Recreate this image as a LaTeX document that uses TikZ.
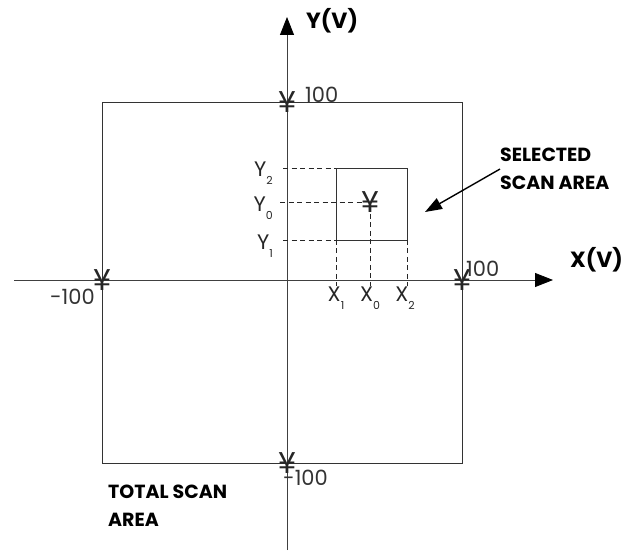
\documentclass[tikz,border=0pt]{standalone}
\usepackage{fontspec}
\setmainfont{Poppins}
\usetikzlibrary{arrows.meta}
\newcommand\lowsub[1]{\raisebox{-0.35em}{\fontsize{11}{11}\selectfont #1}}
\begin{document}
\begin{tikzpicture}[x=1pt,y=-1pt,
  axis/.style={line width=0.8pt, draw=black!75},
  frame/.style={line width=0.8pt, draw=black!80},
  dashline/.style={line width=0.8pt, draw=black!85, dash pattern=on 5pt off 3.5pt},
  ymark/.style={inner sep=0pt, text=black!85, font=\fontsize{30}{30}\selectfont},
  num/.style={inner sep=0pt, text=black!80, font=\fontsize{21}{21}\selectfont},
  coord/.style={inner sep=0pt, text=black!85, font=\fontsize{21}{21}\selectfont},
  axlbl/.style={inner sep=0pt, font=\bfseries\fontsize{22}{22}\selectfont},
  lbl/.style={inner sep=0pt, align=left, font=\bfseries\fontsize{19}{28}\selectfont},
  bigtip/.style={-{Triangle[length=18pt,width=14pt,color=black,fill=black]}}
]
\useasboundingbox (0,0) rectangle (632,553);

% axes
\coordinate (yb) at (287,550);
\coordinate (yt) at (287,17);
\coordinate (xl) at (14,280);
\coordinate (xr) at (553,280);
\draw[axis,bigtip] (yb) -- (yt);
\draw[axis,bigtip] (xl) -- (xr);
\node[axlbl,anchor=base west] (ylab) at (306,29) {Y(V)};
\node[axlbl,anchor=base west] (xlab) at (570,268) {X(V)};

% total scan area
\coordinate (ta) at (102,102);
\coordinate (tb) at (462,463);
\draw[frame] (ta) rectangle (tb);

% markers on the axes
\node[ymark] (mt) at (287,102) {¥};
\node[ymark] (mb) at (287,463) {¥};
\node[ymark] (ml) at (102,280) {¥};
\node[ymark] (mr) at (462,280) {¥};
\node[num,anchor=base west] (nt) at (305,103) {100};
\node[num,anchor=base west] (nr) at (466,277) {100};
\node[num,anchor=base east] (nl) at (95,305) {-100};
\node[num,anchor=base west] (nb) at (283,485) {-100};

% selected scan area
\coordinate (sa) at (336,168);
\coordinate (sb) at (407,240);
\draw[frame] (sa) rectangle (sb);
\node[ymark] (mc) at (370,202) {¥};

\coordinate (y2s) at (283,168);
\coordinate (y0s) at (280,202);
\coordinate (y1s) at (283,240);
\coordinate (y2e) at (336,168);
\coordinate (y0e) at (362,202);
\coordinate (y1e) at (336,240);
\draw[dashline] (y2s) -- (y2e);
\draw[dashline] (y0s) -- (y0e);
\draw[dashline] (y1s) -- (y1e);

\coordinate (x1s) at (336,240);
\coordinate (x0s) at (370,214);
\coordinate (x2s) at (407,240);
\coordinate (x1e) at (336,286);
\coordinate (x0e) at (370,286);
\coordinate (x2e) at (407,286);
\draw[dashline] (x1s) -- (x1e);
\draw[dashline] (x0s) -- (x0e);
\draw[dashline] (x2s) -- (x2e);

\node[coord,anchor=base east] (ly2) at (273,177) {Y\lowsub{2}};
\node[coord,anchor=base east] (ly0) at (273,212) {Y\lowsub{0}};
\node[coord,anchor=base east] (ly1) at (273,250) {Y\lowsub{1}};
\node[coord,anchor=base] (lx1) at (336,302) {X\lowsub{1}};
\node[coord,anchor=base] (lx0) at (370,302) {X\lowsub{0}};
\node[coord,anchor=base] (lx2) at (405,302) {X\lowsub{2}};

% labels
\node[lbl,anchor=north west] (sel) at (500,148) {SELECTED\\SCAN AREA};
\coordinate (seltip) at (425,212);
\draw[line width=1.4pt,-{Triangle[length=17pt,width=12pt]}] (sel.west) -- (seltip);
\node[lbl,anchor=north west] (tot) at (108,485) {TOTAL SCAN\\AREA};
\end{tikzpicture}
\end{document}
